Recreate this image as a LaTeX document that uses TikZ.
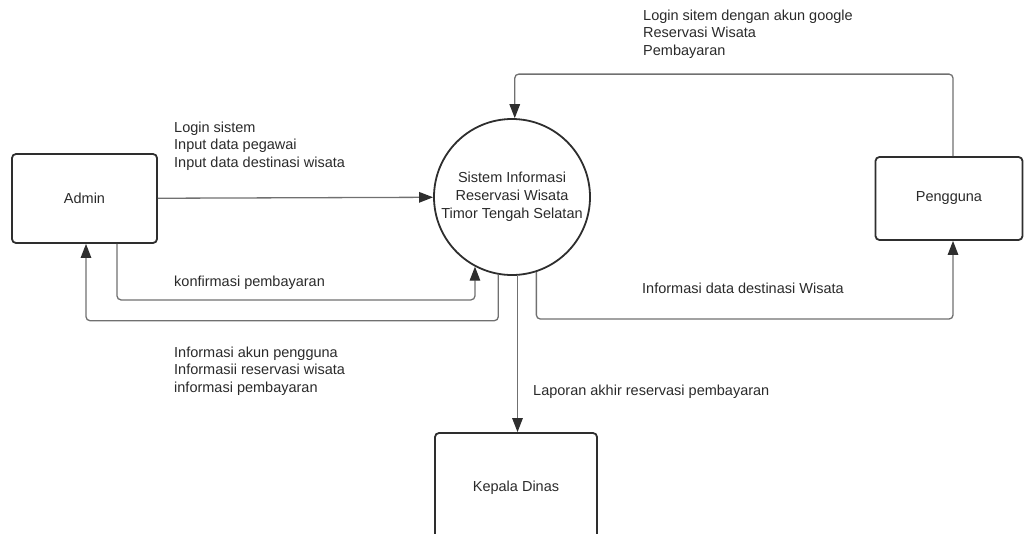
\documentclass[tikz,border=0pt]{standalone}
\usepackage{fontspec}
\setmainfont{Liberation Sans}
\usetikzlibrary{positioning,arrows.meta}
\definecolor{linegray}{HTML}{707070}
\definecolor{boxgray}{HTML}{2E2E2E}
\definecolor{txtgray}{HTML}{2A2A2A}
\newcommand{\dfdfont}{\fontsize{14.5}{17.8}\selectfont}

\begin{document}
\begin{tikzpicture}[x=1pt,y=1pt,block/.style={draw=boxgray,line width=1.8pt,rectangle,rounded corners=4pt,text=txtgray,font=\dfdfont},proc/.style={draw=boxgray,line width=1.8pt,circle,minimum size=156pt,inner sep=0pt,align=center,text=txtgray,font=\dfdfont},lbl/.style={anchor=base west,inner sep=0pt,align=left,text=txtgray,font=\dfdfont},arrow/.style={draw=linegray,line width=1.3pt,rounded corners=4pt,-{Triangle[length=14pt,width=10.5pt,color=boxgray]}}]
  \useasboundingbox (0,0) rectangle (1025,-533);

  \node[block,minimum width=145pt,minimum height=89pt] (admin) at (84.5,-198.5) {Admin};
  \node[proc] (sistem) at (512,-197) {Sistem Informasi\\Reservasi Wisata\\Timor Tengah Selatan};
  \node[block,minimum width=147pt,minimum height=83pt] (pengguna) at (949,-198.5) {Pengguna};
  \node[block,minimum width=162pt,minimum height=110pt] (kepala) at (516,-488) {Kepala Dinas};

  \draw[arrow] (admin) -- (sistem);
  \draw[arrow] ([xshift=32.5pt]admin.south) -- ++(0,-56) -| (sistem.242);
  \draw[arrow] (sistem.260) -- ++(0,-46) -| ([xshift=1.5pt]admin.south);
  \draw[arrow] (sistem.274) -- (sistem.274 |- kepala.north);
  \draw[arrow] (sistem.288) -- ++(0,-47) -| ([xshift=4pt]pengguna.south);
  \draw[arrow] ([xshift=4pt]pengguna.north) -- ++(0,82) -| (sistem.88);

  % multi-line labels sit on their last line
  \node[lbl] (lbladmin) at (174,-167.6) {Login sistem\\Input data pegawai\\Input data destinasi wisata};
  \node[lbl] (lblkonf) at (174,-286) {konfirmasi pembayaran};
  \node[lbl] (lblinfo) at (174,-392.6) {Informasi akun pengguna\\Informasii reservasi wisata\\informasi pembayaran};
  \node[lbl] (lblpengguna) at (643,-55.6) {Login sitem dengan akun google\\Reservasi Wisata\\Pembayaran};
  \node[lbl] (lbldest) at (642,-293) {Informasi data destinasi Wisata};
  \node[lbl] (lbllapor) at (533,-395) {Laporan akhir reservasi pembayaran};

\end{tikzpicture}
\end{document}
